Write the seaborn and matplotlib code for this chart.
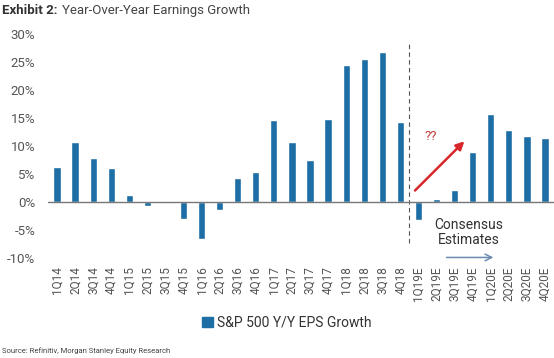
import pandas as pd
import seaborn as sns
import matplotlib.pyplot as plt
from matplotlib.patches import Patch

# Quarterly S&P 500 Y/Y EPS growth (%), E = consensus estimate
quarters = ["1Q14", "2Q14", "3Q14", "4Q14", "1Q15", "2Q15", "3Q15", "4Q15",
            "1Q16", "2Q16", "3Q16", "4Q16", "1Q17", "2Q17", "3Q17", "4Q17",
            "1Q18", "2Q18", "3Q18", "4Q18", "1Q19E", "2Q19E", "3Q19E", "4Q19E",
            "1Q20E", "2Q20E", "3Q20E", "4Q20E"]
growth = [6.2, 10.8, 7.9, 6.1, 1.3, -0.7, -0.1, -3.1,
          -6.6, -1.4, 4.3, 5.4, 14.6, 10.7, 7.5, 14.8,
          24.5, 25.5, 26.8, 14.3, -3.2, 0.6, 2.1, 8.9,
          15.7, 12.9, 11.7, 11.4]
yticks = [-10, -5, 0, 5, 10, 15, 20, 25, 30]

df = pd.DataFrame({"quarter": quarters, "growth": growth})

bar_color = "#1c6ea4"
text_gray = "#555555"

sns.set_style("white")
plt.rcParams["font.family"] = ["Roboto", "DejaVu Sans"]

fig = plt.figure(figsize=(5.54, 3.58), dpi=100)
ax = fig.add_axes([0.0866, 0.2793, 0.9134, 0.6257])

sns.barplot(data=df, x="quarter", y="growth", color=bar_color, width=0.4,
            saturation=1, ax=ax)

ax.set_xlim(-0.5, len(quarters) - 0.5)
ax.set_ylim(-10, 30)
ax.set_yticks(yticks)
ax.set_yticklabels([f"{t}%" for t in yticks], fontsize=9.5, color=text_gray)
ax.tick_params(axis="x", labelrotation=90, labelsize=8.5, labelcolor=text_gray,
               length=0, pad=6)
ax.tick_params(axis="y", length=0, pad=9)
ax.set_xlabel("")
ax.set_ylabel("")
for s in ax.spines.values():
    s.set_visible(False)
ax.axhline(0, color="#777777", lw=1, zorder=5)

# split between actuals and estimates
ax.plot([19.5, 19.5], [-7.3, 28.6], color="#555555", lw=0.8, ls=(0, (4, 3)))

# annotations
ax.annotate("", xy=(22.65, 11.2), xytext=(19.7, 1.7),
            arrowprops=dict(arrowstyle="-|>", color="#d9262b", lw=1.8,
                            mutation_scale=12))
ax.text(20.7, 11.7, "??", color="#c0393b", fontsize=9.5, ha="center", va="center")
ax.text(22.8, -5.4, "Consensus\nEstimates", color="#333333", fontsize=10,
        ha="center", va="center", linespacing=1.1)
ax.annotate("", xy=(24.3, -9.9), xytext=(21.4, -9.9), annotation_clip=False,
            arrowprops=dict(arrowstyle="->", color="#6a8ab0", lw=1.1,
                            mutation_scale=12))

# title and footer
fig.text(0.004, 0.97, "Exhibit 2:", fontsize=9.5, fontweight="bold",
         color="#333333", va="center")
fig.text(0.112, 0.97, "Year-Over-Year Earnings Growth", fontsize=9.5,
         color="#444444", va="center")
fig.legend(handles=[Patch(color=bar_color, label="S&P 500 Y/Y EPS Growth")],
           loc="center", bbox_to_anchor=(0.518, 0.098), frameon=False,
           fontsize=10, handlelength=0.8, handleheight=0.8, handletextpad=0.3,
           labelcolor="#333333")
fig.text(0.004, 0.022, "Source: Refinitiv, Morgan Stanley Equity Research",
         fontsize=5.5, color="#444444", va="center")

fig.savefig("out.png", dpi=100)
